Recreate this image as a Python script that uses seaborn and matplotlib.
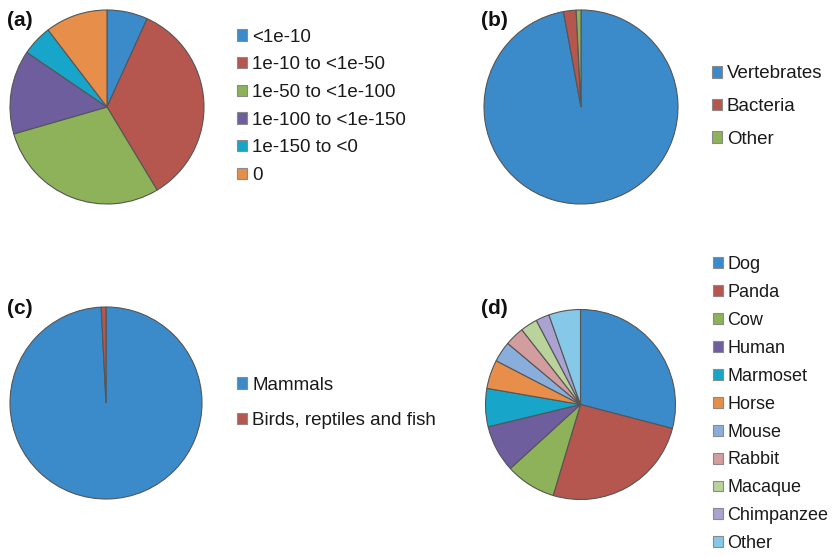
import matplotlib
matplotlib.use("Agg")
import matplotlib.pyplot as plt
from matplotlib.patches import Patch
import seaborn as sns

# ---- data -------------------------------------------------------------
evalue_bins = ["<1e-10", "1e-10 to <1e-50", "1e-50 to <1e-100",
               "1e-100 to <1e-150", "1e-150 to <0", "0"]
evalue_share = [6.8, 34.6, 29.2, 14.0, 5.1, 10.4]

kingdom_groups = ["Vertebrates", "Bacteria", "Other"]
kingdom_share = [97.1, 2.1, 0.8]

vertebrate_groups = ["Mammals", "Birds, reptiles and fish"]
vertebrate_share = [99.2, 0.8]

species = ["Dog", "Panda", "Cow", "Human", "Marmoset", "Horse", "Mouse",
           "Rabbit", "Macaque", "Chimpanzee", "Other"]
species_share = [29.1, 25.6, 8.6, 8.0, 6.5, 4.9, 3.5, 3.3, 2.9, 2.3, 5.4]

panel_tags = ["(a)", "(b)", "(c)", "(d)"]

# ---- style ------------------------------------------------------------
sns.set_theme(style="white")
plt.rcParams["font.family"] = ["Liberation Sans", "DejaVu Sans"]

palette = sns.color_palette([
    "#3B8BCB", "#B5574F", "#8DB25A", "#6F5E9E", "#17A6C9", "#E78F4A",
    "#8AAEDC", "#D39C9E", "#B9D39A", "#AAA2D0", "#86C8E8",
])

W, H = 832, 556
fig = plt.figure(figsize=(W / 100, H / 100), dpi=100)
fig.patch.set_facecolor("white")

EDGE = "#555555"


def pie_axes(cx, cy, r):
    """Square axes whose unit circle has radius r pixels, centred at (cx, cy)."""
    m = 1.05
    half = r * m
    ax = fig.add_axes([(cx - half) / W, 1 - (cy + half) / H,
                       2 * half / W, 2 * half / H])
    ax.set_axis_off()
    return ax, m


def draw_pie(cx, cy, r, values, labels, legend_xy, spacing, size=13.5):
    ax, m = pie_axes(cx, cy, r)
    ax.pie(values, colors=palette[:len(values)], startangle=90,
           counterclock=False,
           wedgeprops=dict(edgecolor=EDGE, linewidth=0.8))
    ax.set_xlim(-m, m)
    ax.set_ylim(-m, m)
    ax.set_aspect("equal")
    handles = [Patch(facecolor=palette[i], edgecolor="#8a8a8a", linewidth=0.8)
               for i in range(len(labels))]
    lx, ly = legend_xy
    fig.legend(handles, labels, loc="upper left",
               bbox_to_anchor=(lx / W, 1 - ly / H),
               bbox_transform=fig.transFigure, frameon=False,
               fontsize=size, borderpad=0, borderaxespad=0,
               handlelength=0.55, handleheight=0.55, handletextpad=0.25,
               labelspacing=spacing, labelcolor="#1a1a1a")


draw_pie(107, 107, 97, evalue_share, evalue_bins, (237, 28.5), 0.57)
draw_pie(581, 107, 97, kingdom_share, kingdom_groups, (712, 65.5), 0.83)
draw_pie(106, 403, 96, vertebrate_share, vertebrate_groups, (237, 376.5), 1.0)
draw_pie(580.5, 404.5, 95, species_share, species, (713, 256), 0.605, size=13)

for tag, (x, y) in zip(panel_tags, [(7, 11), (481, 11), (7, 299), (481, 299)]):
    fig.text(x / W, 1 - y / H, tag, fontsize=15, fontweight="bold",
             va="top", ha="left", color="#111111")

fig.savefig("out.png", dpi=100, facecolor="white")
